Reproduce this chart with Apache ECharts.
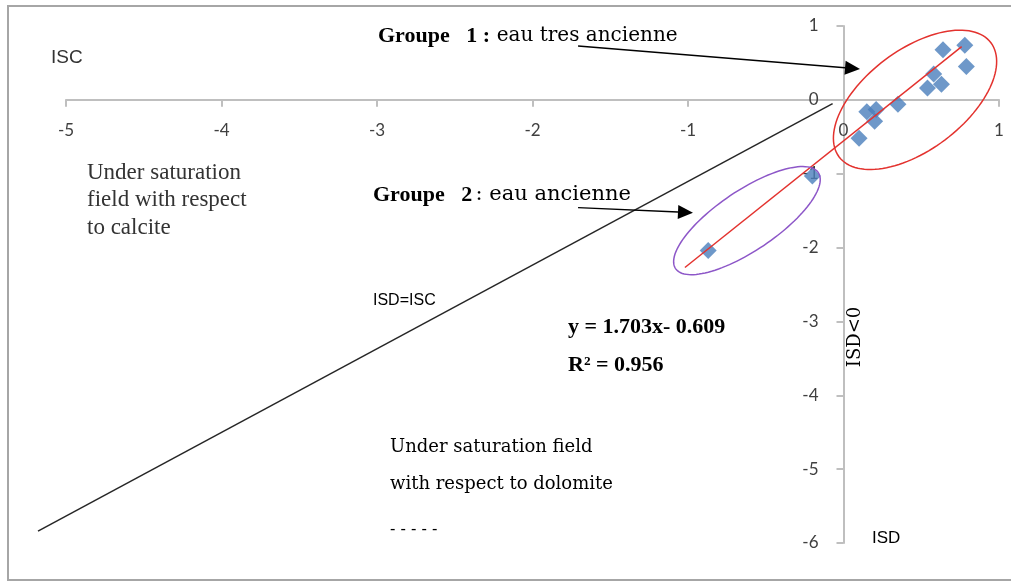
<!DOCTYPE html>
<html><head><meta charset="utf-8">
<script src="https://cdn.jsdelivr.net/npm/echarts@6/dist/echarts.min.js"></script>
<style>html,body{margin:0;padding:0;background:#fff}#c{width:1011px;height:581px}</style>
</head><body><div id="c"></div>
<script>
// ---- data ----
const xTicks = [-5, -4, -3, -2, -1, 0, 1];
const yTicks = [-6, -5, -4, -3, -2, -1, 0, 1];
const group1X = [0.10, 0.15, 0.21, 0.20, 0.35, 0.54, 0.58, 0.63, 0.64, 0.78, 0.79];
const group1Y = [-0.52, -0.16, -0.13, -0.29, -0.06, 0.16, 0.35, 0.21, 0.68, 0.74, 0.45];
const group2X = [-0.20, -0.87];
const group2Y = [-1.03, -2.04];
const trendX = [-1.02, 0.76];
const trendY = [-2.27, 0.72];
const equalX = [-5.18, -0.07];
const equalY = [-5.84, -0.05];
const arrowStarts = [[-1.707, 0.730], [-1.707, -1.459]];
const arrowEnds = [[0.106, 0.419], [-0.968, -1.527]];
const ellipseCenters = [[0.460, 0.0], [-0.621, -1.635]];
const ellipseMajorEnds = [[0.948, 0.773], [-0.162, -0.985]];

// ---- styles ----
const ellipseStyle = [{ minor: 50, color: '#e3322e' }, { minor: 30, color: '#8d57c8' }];
const blue = '#4a7ebb';
const axisColor = '#bfbfbf';
const axisFont = { fontFamily: 'Lato', fontSize: 17, color: '#404040' };

const chart = echarts.init(document.getElementById('c'), null, { renderer: 'canvas' });
const zip = (a, b) => a.map((v, i) => [v, b[i]]);
const xMin = xTicks[0], xMax = xTicks[xTicks.length - 1];
const yMin = yTicks[0], yMax = yTicks[yTicks.length - 1];

const L = 66, R = 12, T = 26, B = 38, W = 1011 - L - R, H = 581 - T - B;
const zeroX = L + W * (0 - xMin) / (xMax - xMin);
const zeroY = T + H * (yMax - 0) / (yMax - yMin);

const hiddenX = (gi) => ({ type: 'value', gridIndex: gi, min: xMin, max: xMax, interval: 1, show: false });
const hiddenY = (gi) => ({ type: 'value', gridIndex: gi, min: yMin, max: yMax, interval: 1, show: false });

const option = {
  backgroundColor: '#fff',
  animation: false,
  grid: [
    { left: L, right: R, top: T, bottom: B },                 // data
    { left: L, right: R, top: T, height: zeroY - T },         // x axis at y = 0
    { left: L, top: T, bottom: B, width: zeroX - L }          // y axis at x = 0
  ],
  xAxis: [
    hiddenX(0),
    {
      type: 'value', gridIndex: 1, position: 'bottom', min: xMin, max: xMax, interval: 1,
      axisLine: { onZero: false, lineStyle: { color: axisColor, width: 2 } },
      axisTick: { show: true, length: 7, lineStyle: { color: axisColor, width: 2 } },
      axisLabel: Object.assign({ margin: 22 }, axisFont),
      splitLine: { show: false }
    },
    hiddenX(2)
  ],
  yAxis: [
    hiddenY(0),
    hiddenY(1),
    {
      type: 'value', gridIndex: 2, position: 'right', min: yMin, max: yMax, interval: 1,
      axisLine: { onZero: false, lineStyle: { color: axisColor, width: 2 } },
      axisTick: { show: true, inside: true, length: 7, lineStyle: { color: axisColor, width: 2 } },
      axisLabel: Object.assign({ inside: true, margin: 25 }, axisFont),
      splitLine: { show: false }
    }
  ],
  series: [
    {
      type: 'custom', name: 'ISD=ISC', z: 3,
      data: [[equalX[0], equalY[0], equalX[1], equalY[1]]],
      encode: { x: [0, 2], y: [1, 3] },
      renderItem: function (params, api) {
        const s = api.coord([api.value(0), api.value(1)]);
        const e = api.coord([api.value(2), api.value(3)]);
        return { type: 'line', shape: { x1: s[0], y1: s[1], x2: e[0], y2: e[1] }, style: { stroke: '#262626', lineWidth: 1.5 } };
      }
    },
    {
      type: 'custom', name: 'arrows', z: 3,
      data: arrowStarts.map((s, i) => [s[0], s[1], arrowEnds[i][0], arrowEnds[i][1]]),
      encode: { x: [0, 2], y: [1, 3] },
      renderItem: function (params, api) {
        const s = api.coord([api.value(0), api.value(1)]);
        const e = api.coord([api.value(2), api.value(3)]);
        const dx = e[0] - s[0], dy = e[1] - s[1], len = Math.hypot(dx, dy);
        const ux = dx / len, uy = dy / len, vx = -uy, vy = ux;
        const hl = 15, hw = 7;
        const bx = e[0] - ux * hl, by = e[1] - uy * hl;
        return {
          type: 'group', children: [
            { type: 'line', shape: { x1: s[0], y1: s[1], x2: bx, y2: by }, style: { stroke: '#000', lineWidth: 1.4 } },
            { type: 'polygon', shape: { points: [e, [bx + vx * hw, by + vy * hw], [bx - vx * hw, by - vy * hw]] }, style: { fill: '#000' } }
          ]
        };
      }
    },
    {
      type: 'scatter', name: 'Groupe 1', data: zip(group1X, group1Y),
      symbol: 'diamond', symbolSize: 17, itemStyle: { color: blue }, z: 4
    },
    {
      type: 'scatter', name: 'Groupe 2', data: zip(group2X, group2Y),
      symbol: 'diamond', symbolSize: 17, itemStyle: { color: blue }, z: 4
    },
    {
      type: 'line', name: 'trend', data: zip(trendX, trendY),
      symbol: 'none', lineStyle: { color: '#e3322e', width: 1.5 }, z: 5
    },
    {
      type: 'custom', name: 'ellipses', z: 6,
      data: ellipseCenters.map((c, i) => [c[0], c[1], ellipseMajorEnds[i][0], ellipseMajorEnds[i][1]]),
      encode: { x: [0, 2], y: [1, 3] },
      renderItem: function (params, api) {
        const i = params.dataIndex;
        const c = api.coord([api.value(0), api.value(1)]);
        const m = api.coord([api.value(2), api.value(3)]);
        const dx = m[0] - c[0], dy = m[1] - c[1];
        const a = Math.hypot(dx, dy);
        const ux = dx / a, uy = dy / a, vx = -uy, vy = ux;
        const b = ellipseStyle[i].minor;
        const pts = [];
        for (let k = 0; k < 120; k++) {
          const t = 2 * Math.PI * k / 120;
          const ca = Math.cos(t) * a, sb = Math.sin(t) * b;
          pts.push([c[0] + ca * ux + sb * vx, c[1] + ca * uy + sb * vy]);
        }
        return { type: 'polygon', shape: { points: pts }, style: { fill: 'none', stroke: ellipseStyle[i].color, lineWidth: 1.5 } };
      }
    }
  ],
  graphic: [
    { type: 'rect', shape: { x: 8, y: 6, width: 1010, height: 574 }, style: { fill: 'none', stroke: '#a6a6a6', lineWidth: 2 }, z: 0, silent: true },
    { type: 'text', x: 51, y: 58, style: { text: 'ISC', font: '19px "Liberation Sans"', fill: '#333', textVerticalAlign: 'middle' } },
    { type: 'text', x: 378, y: 36, style: {
        text: '{b|Groupe   1 :}  {n|eau tres ancienne}', textVerticalAlign: 'middle',
        rich: { b: { font: 'bold 22px "Liberation Serif"', fill: '#000' }, n: { font: '20px "DejaVu Serif"', fill: '#000' } } } },
    { type: 'text', x: 373, y: 195, style: {
        text: '{b|Groupe   2} {n|: eau ancienne}', textVerticalAlign: 'middle',
        rich: { b: { font: 'bold 22px "Liberation Serif"', fill: '#000' }, n: { font: '21px "DejaVu Serif"', fill: '#000' } } } },
    { type: 'text', x: 87, y: 159, style: { text: 'Under saturation\nfield with respect\nto calcite', font: '23px "Liberation Serif"', lineHeight: 27.5, fill: '#333' } },
    { type: 'text', x: 373, y: 301, style: { text: 'ISD=ISC', font: '16px "Liberation Sans"', fill: '#000', textVerticalAlign: 'middle' } },
    { type: 'text', x: 568, y: 327, style: { text: 'y = 1.703x- 0.609', font: 'bold 22px "Liberation Serif"', fill: '#000', textVerticalAlign: 'middle' } },
    { type: 'text', x: 568, y: 365, style: { text: 'R² = 0.956', font: 'bold 22px "Liberation Serif"', fill: '#000', textVerticalAlign: 'middle' } },
    { type: 'text', x: 855, y: 337, rotation: Math.PI / 2, style: { text: 'ISD<0', font: '18px "DejaVu Serif"', fill: '#000', textAlign: 'center', textVerticalAlign: 'middle' } },
    { type: 'text', x: 390, y: 429, style: { text: 'Under saturation field\nwith respect to dolomite', font: '18px "DejaVu Serif"', lineHeight: 37, fill: '#000' } },
    { type: 'text', x: 390, y: 530, style: { text: '- - - - -', font: '16px "DejaVu Serif"', fill: '#000', textVerticalAlign: 'middle' } },
    { type: 'text', x: 872, y: 538, style: { text: 'ISD', font: '17px "Liberation Sans"', fill: '#000', textVerticalAlign: 'middle' } }
  ]
};
chart.setOption(option);
</script>
</body></html>
